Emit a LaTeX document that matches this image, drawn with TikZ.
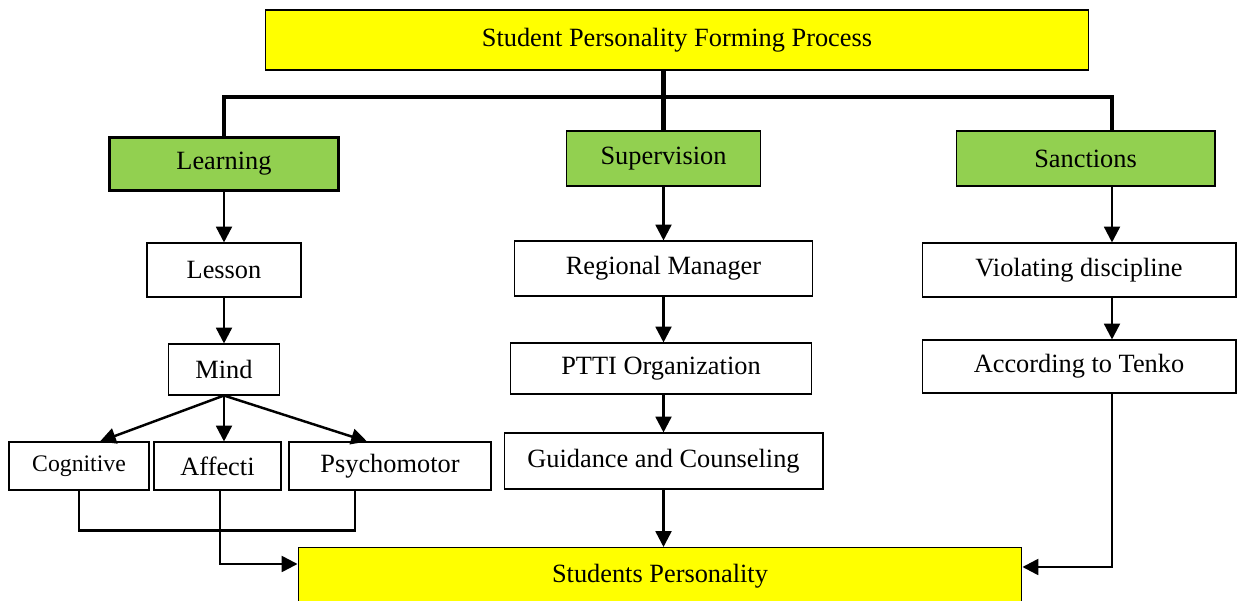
\documentclass[tikz,border=0pt]{standalone}
\usepackage{fontspec}
\setmainfont{Liberation Serif}
\usetikzlibrary{positioning,arrows.meta}
\definecolor{boxyellow}{HTML}{FFFF00}
\definecolor{boxgreen}{HTML}{92D050}

\begin{document}
\begin{tikzpicture}[
x=0.02cm,y=-0.02cm,
every node/.style={draw,line width=0.6pt,inner sep=0pt,align=center,font=\fontsize{15}{17}\selectfont},
head/.style={fill=boxgreen,minimum height=1.1cm},
item/.style={fill=white,minimum height=1.08cm},
trunk/.style={line width=2.3pt},
flow/.style={line width=1.4pt},
>={Triangle[length=9pt,width=9pt]}]
\useasboundingbox (0,0) rectangle (1238,601);
\node (process) [fill=boxyellow,minimum width=16.48cm,minimum height=1.2cm] at (677,40) {Student Personality Forming Process};
\node (learning) [head,line width=1.6pt,minimum width=4.58cm,minimum height=1.06cm] at (224,164) {Learning};
\node (supervision) [head,minimum width=3.88cm] at (663.5,158.5) {Supervision};
\node (sanctions) [head,minimum width=5.18cm] at (1085.5,158.5) {Sanctions};
\node (lesson) [item,minimum width=3.08cm] at (224,270) {Lesson};
\node (mind) [item,minimum width=2.22cm,minimum height=1.02cm] at (224,369.5) {Mind};
\node (cognitive) [item,minimum width=2.8cm,minimum height=0.96cm,font=\fontsize{13.5}{15}\selectfont] at (79,466) {Cognitive};
\node (affective) [item,minimum width=2.54cm,minimum height=0.96cm] at (217.5,466) {Affecti};
\node (psychomotor) [item,minimum width=4.04cm,minimum height=0.96cm] at (390,466) {Psychomotor};
\node (regional) [item,minimum width=5.96cm,minimum height=1.1cm] at (663.5,268.5) {Regional Manager};
\node (ptti) [item,minimum width=6.02cm,minimum height=1.02cm] at (661,368.5) {PTTI Organization};
\node (guidance) [item,minimum width=6.38cm,minimum height=1.12cm] at (663.5,461) {Guidance and Counseling};
\node (violating) [item,minimum width=6.28cm] at (1079,270) {Violating discipline};
\node (tenko) [item,minimum width=6.28cm,minimum height=1.06cm] at (1079,366.5) {According to Tenko};
\node (personality) [fill=boxyellow,anchor=north,minimum width=14.48cm,minimum height=1.16cm] at (660,547) {Students Personality};
\coordinate (drop) at (1112,97);
% branches from the top box
\draw[trunk] (supervision.north |- process.south) -- (supervision.north);
\draw[trunk] (learning.north) |- (drop) -- (drop |- sanctions.north);
% learning column
\draw[->,flow] (learning.south) -- (lesson.north);
\draw[->,flow] (lesson.south) -- (mind.north);
\draw[->,flow] (mind.south) -- ([xshift=0.42cm]cognitive.north);
\draw[->,flow] (mind.south) -- (mind.south |- affective.north);
\draw[->,flow] (mind.south) -- ([xshift=-0.46cm]psychomotor.north);
\draw[flow] (cognitive.south) -- ++(0,40) -| ([xshift=-0.7cm]psychomotor.south);
\draw[->,flow] ([xshift=0.05cm]affective.south) |- ([yshift=-0.34cm]personality.north west);
% supervision column
\draw[->,flow] (supervision.south) -- (regional.north);
\draw[->,flow] (regional.south) -- (regional.south |- ptti.north);
\draw[->,flow] (regional.south |- ptti.south) -- (guidance.north);
\draw[->,flow] (guidance.south) -- (guidance.south |- personality.north);
% sanctions column
\draw[->,flow] (drop |- sanctions.south) -- (drop |- violating.north);
\draw[->,flow] (drop |- violating.south) -- (drop |- tenko.north);
\draw[->,flow] (drop |- tenko.south) |- ([yshift=-0.4cm]personality.north east);
\end{tikzpicture}
\end{document}
